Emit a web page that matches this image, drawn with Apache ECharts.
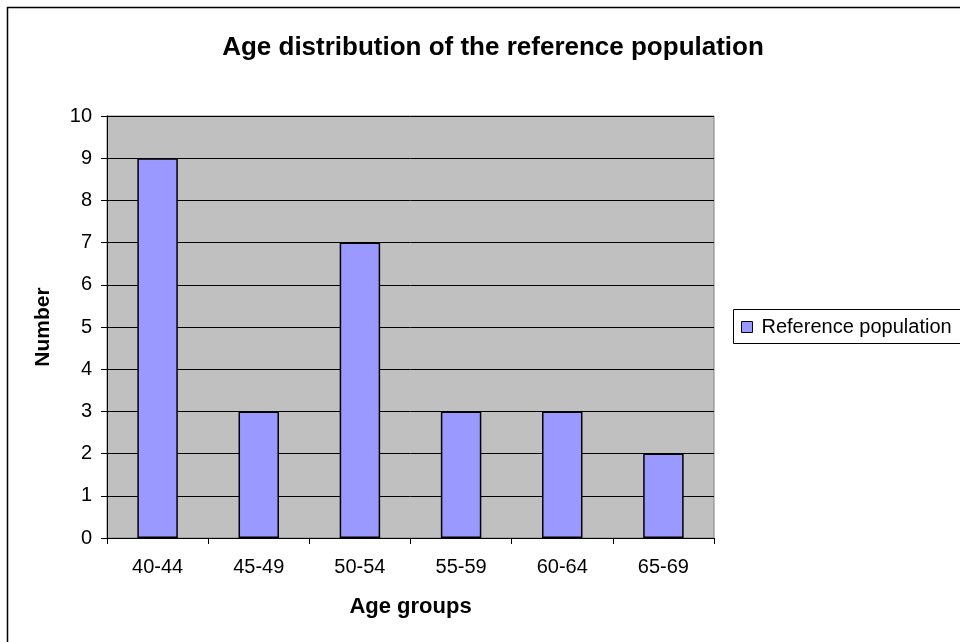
<!DOCTYPE html>
<html>
<head>
<meta charset="utf-8">
<script src="https://cdn.jsdelivr.net/npm/echarts@6/dist/echarts.min.js"></script>
<style>
html, body { margin: 0; padding: 0; background: #fff; }
#chart { width: 960px; height: 642px; }
</style>
</head>
<body>
<div id="chart"></div>
<script>
// Age groups and head counts for the reference population
const ageGroups = ['40-44', '45-49', '50-54', '55-59', '60-64', '65-69'];
const counts = [9, 3, 7, 3, 3, 2];
const seriesName = 'Reference population';

const chart = echarts.init(document.getElementById('chart'), null, { renderer: 'canvas' });
const font = 'Arial, "Liberation Sans", sans-serif';

chart.setOption({
  animation: false,
  backgroundColor: '#ffffff',
  title: {
    text: 'Age distribution of the reference population',
    left: 493,
    textAlign: 'center',
    top: 35,
    padding: 0,
    textStyle: { fontFamily: font, fontSize: 26, fontWeight: 'bold', color: '#000' }
  },
  legend: {
    data: [seriesName],
    left: 741,
    top: 317,
    padding: 0,
    itemWidth: 11,
    itemHeight: 11,
    itemGap: 0,
    icon: 'rect',
    textStyle: { fontFamily: font, fontSize: 20, color: '#000', padding: [0, 0, 4, 4] },
    itemStyle: { borderColor: '#000', borderWidth: 1 }
  },
  grid: {
    left: 107,
    right: 960 - 714,
    top: 116,
    bottom: 642 - 538,
    show: true,
    backgroundColor: '#C0C0C0',
    borderColor: '#808080',
    borderWidth: 1
  },
  xAxis: {
    type: 'category',
    data: ageGroups,
    name: 'Age groups',
    nameLocation: 'middle',
    nameGap: 58,
    nameTextStyle: { fontFamily: font, fontSize: 22, fontWeight: 'bold', color: '#000' },
    axisLine: { lineStyle: { color: '#000', width: 1 } },
    axisTick: { show: true, alignWithLabel: false, length: 6, lineStyle: { color: '#000' } },
    axisLabel: { fontFamily: font, fontSize: 20, color: '#000', margin: 19 }
  },
  yAxis: {
    type: 'value',
    min: 0,
    max: 10,
    interval: 1,
    name: 'Number',
    nameLocation: 'middle',
    nameGap: 53,
    nameRotate: 90,
    nameTextStyle: { fontFamily: font, fontSize: 21, fontWeight: 'bold', color: '#000' },
    axisLine: { show: true, lineStyle: { color: '#000', width: 1 } },
    axisTick: { show: true, length: 6, lineStyle: { color: '#000' } },
    axisLabel: { fontFamily: font, fontSize: 20, color: '#000', margin: 15 },
    splitLine: { show: true, lineStyle: { color: '#000', width: 1 } }
  },
  series: [{
    name: seriesName,
    type: 'bar',
    data: counts,
    barCategoryGap: '60%',
    itemStyle: { color: '#9999FF', borderColor: '#000', borderWidth: 1.5 }
  }],
  graphic: [
    {
      type: 'rect',
      shape: { x: 7.5, y: 7.5, width: 1000, height: 1000 },
      style: { fill: 'none', stroke: '#000', lineWidth: 1.5 },
      silent: true
    },
    {
      type: 'rect',
      shape: { x: 733.5, y: 309.5, width: 400, height: 34 },
      style: { fill: '#fff', stroke: '#000', lineWidth: 1 },
      z: -1,
      silent: true
    }
  ]
});
</script>
</body>
</html>
